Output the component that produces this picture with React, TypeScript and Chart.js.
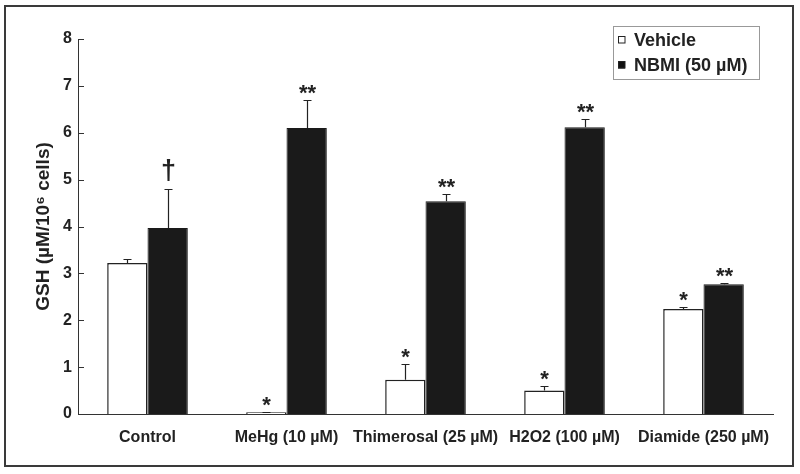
import React, { useEffect, useRef } from "react";
import { Chart, registerables } from "chart.js";

Chart.register(...registerables);

const categories = ["Control", "MeHg (10 µM)", "Thimerosal (25 µM)", "H2O2 (100 µM)", "Diamide (250 µM)"];
const seriesLabels = ["Vehicle", "NBMI (50 µM)"];
const vehicleValues = [3.22, 0.04, 0.73, 0.5, 2.24];
const vehicleErrors = [0.09, 0.01, 0.34, 0.1, 0.05];
const nbmiValues = [3.97, 6.1, 4.54, 6.12, 2.77];
const nbmiErrors = [0.82, 0.59, 0.15, 0.18, 0.02];
const vehicleMarks = ["", "*", "*", "*", "*"];
const nbmiMarks = ["†", "**", "**", "**", "**"];
const yTicks = [0, 1, 2, 3, 4, 5, 6, 7, 8];

const FONT = '"Liberation Sans", Arial, sans-serif';
const TEXT = "#222";

const errorsBySeries = [vehicleErrors, nbmiErrors];
const valuesBySeries = [vehicleValues, nbmiValues];
const marksBySeries = [vehicleMarks, nbmiMarks];

const decorPlugin = {
  id: "decor",
  afterDraw(chart: any) {
    const ctx = chart.ctx;
    const y = chart.scales.y;
    const area = chart.chartArea;
    ctx.save();
    // frame
    ctx.strokeStyle = "#3a3a3a";
    ctx.lineWidth = 2;
    ctx.strokeRect(5, 6, 788, 460);
    // inward y ticks
    ctx.strokeStyle = "#333";
    ctx.lineWidth = 1;
    yTicks.forEach((t) => {
      const py = Math.round(y.getPixelForValue(t)) + 0.5;
      ctx.beginPath();
      ctx.moveTo(area.left, py);
      ctx.lineTo(area.left + 6, py);
      ctx.stroke();
    });
    // error bars + marks
    chart.data.datasets.forEach((ds: any, di: number) => {
      const meta = chart.getDatasetMeta(di);
      meta.data.forEach((bar: any, i: number) => {
        const v = valuesBySeries[di][i];
        const e = errorsBySeries[di][i];
        const x = Math.round(bar.x) + 0.5;
        const yv = y.getPixelForValue(v);
        const yt = Math.round(y.getPixelForValue(v + e)) + 0.5;
        ctx.strokeStyle = "#222";
        ctx.lineWidth = 1.2;
        ctx.beginPath();
        ctx.moveTo(x, yv);
        ctx.lineTo(x, yt);
        ctx.moveTo(x - 4, yt);
        ctx.lineTo(x + 4, yt);
        ctx.stroke();
        const mark = marksBySeries[di][i];
        if (mark) {
          ctx.fillStyle = TEXT;
          ctx.textAlign = "center";
          ctx.textBaseline = "alphabetic";
          if (mark === "†") {
            ctx.font = `bold 27px ${FONT}`;
            ctx.fillText(mark, x, yt - 11);
          } else {
            ctx.font = `bold 22px ${FONT}`;
            ctx.fillText(mark, x, yt - 1);
          }
        }
      });
    });
    // legend
    ctx.fillStyle = "#fff";
    ctx.fillRect(613, 26, 146, 53);
    ctx.strokeStyle = "#999";
    ctx.lineWidth = 1;
    ctx.strokeRect(613.5, 26.5, 146, 53);
    const rows = [40, 65];
    seriesLabels.forEach((lab, i) => {
      const cy = rows[i];
      ctx.fillStyle = i === 0 ? "#fff" : "#111";
      ctx.fillRect(618, cy - 3.5, 7, 7);
      ctx.strokeStyle = "#222";
      ctx.lineWidth = 1;
      ctx.strokeRect(618.5, cy - 3.5, 6.5, 6.5);
      ctx.fillStyle = TEXT;
      ctx.font = `bold 18px ${FONT}`;
      ctx.textAlign = "left";
      ctx.textBaseline = "middle";
      ctx.fillText(lab, 634, cy + 1);
    });
    ctx.restore();
  },
};

export default function App() {
  const ref = useRef<HTMLCanvasElement | null>(null);
  useEffect(() => {
    if (!ref.current) return;
    Chart.defaults.font.family = FONT;
    const chart = new Chart(ref.current, {
      type: "bar",
      data: {
        labels: categories,
        datasets: [
          {
            label: seriesLabels[0],
            data: vehicleValues,
            backgroundColor: "#ffffff",
            borderColor: "#222",
            borderWidth: 1.5,
            barPercentage: 1,
            categoryPercentage: 0.58,
          },
          {
            label: seriesLabels[1],
            data: nbmiValues,
            backgroundColor: "#1a1a1a",
            borderColor: "#1a1a1a",
            borderWidth: 1,
            barPercentage: 1,
            categoryPercentage: 0.58,
          },
        ],
      },
      options: {
        animation: false,
        responsive: false,
        maintainAspectRatio: false,
        layout: { padding: { left: 0, right: 27, top: 39, bottom: 20 } },
        plugins: { legend: { display: false }, tooltip: { enabled: false } },
        scales: {
          x: {
            grid: { display: false, drawTicks: false },
            border: { display: true, color: "#333", width: 1 },
            ticks: { color: TEXT, font: { size: 16, weight: "bold" }, padding: 14, maxRotation: 0, autoSkip: false },
            afterFit: (s: any) => {
              s.height = 40;
            },
          },
          y: {
            min: 0,
            max: 8,
            grid: { display: false, drawTicks: false },
            border: { display: true, color: "#333", width: 1 },
            ticks: { stepSize: 1, color: TEXT, font: { size: 16, weight: "bold" }, padding: 6 },
            title: {
              display: true,
              text: "GSH (µM/10⁶ cells)",
              color: TEXT,
              font: { size: 19, weight: "bold" },
              padding: { top: 32, bottom: 0 },
            },
            afterFit: (s: any) => {
              s.width = 78;
            },
          },
        },
      },
      plugins: [decorPlugin],
    });
    return () => chart.destroy();
  }, []);
  return (
    <div style={{ position: "absolute", left: 0, top: 0, width: 800, height: 474, background: "#fff" }}>
      <canvas ref={ref} width={800} height={474} style={{ display: "block" }} />
    </div>
  );
}
